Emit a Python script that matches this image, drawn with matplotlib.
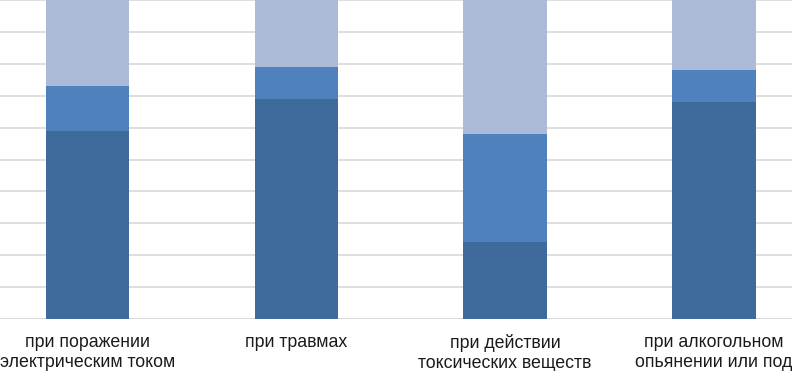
import matplotlib.pyplot as plt
import numpy as np

categories = [
    "при поражении\nэлектрическим током",
    "при травмах",
    "при действии\nтоксических веществ",
    "при алкогольном\nопьянении или под",
]
part1 = [59, 69, 24, 68]
part2 = [14, 10, 34, 10]
part3 = [27, 21, 42, 22]

colors = ["#3F6A9C", "#4F81BD", "#AABAD7"]

plt.rcParams["font.family"] = ["Liberation Sans", "DejaVu Sans"]

fig = plt.figure(figsize=(7.92, 3.71), dpi=100)
# plot area is wider than the picture: the chart was cropped on both sides
ax = fig.add_axes([-16.8 / 792, 52 / 371, 835 / 792, 319 / 371])

x = np.arange(len(categories))
p1 = np.array(part1)
p2 = np.array(part2)
p3 = np.array(part3)
ax.bar(x, p1, width=0.4, color=colors[0], zorder=3)
ax.bar(x, p2, width=0.4, bottom=p1, color=colors[1], zorder=3)
ax.bar(x, p3, width=0.4, bottom=p1 + p2, color=colors[2], zorder=3)

ax.set_xlim(-0.5, len(categories) - 0.5)
ax.set_ylim(0, 100)
ax.set_yticks(np.arange(0, 101, 10))
ax.yaxis.grid(True, color="#D9D9D9", linewidth=1.2, zorder=0)
ax.tick_params(axis="y", length=0, labelleft=False)
ax.tick_params(axis="x", length=0, pad=11)
ax.set_xticks(x)
ax.set_xticklabels(categories, fontsize=12.8, color="#1a1a1a", linespacing=1.22)
for s in ax.spines.values():
    s.set_visible(False)
ax.axhline(0, color="#D9D9D9", linewidth=1.2, zorder=2)

fig.savefig("out.png", dpi=100)
